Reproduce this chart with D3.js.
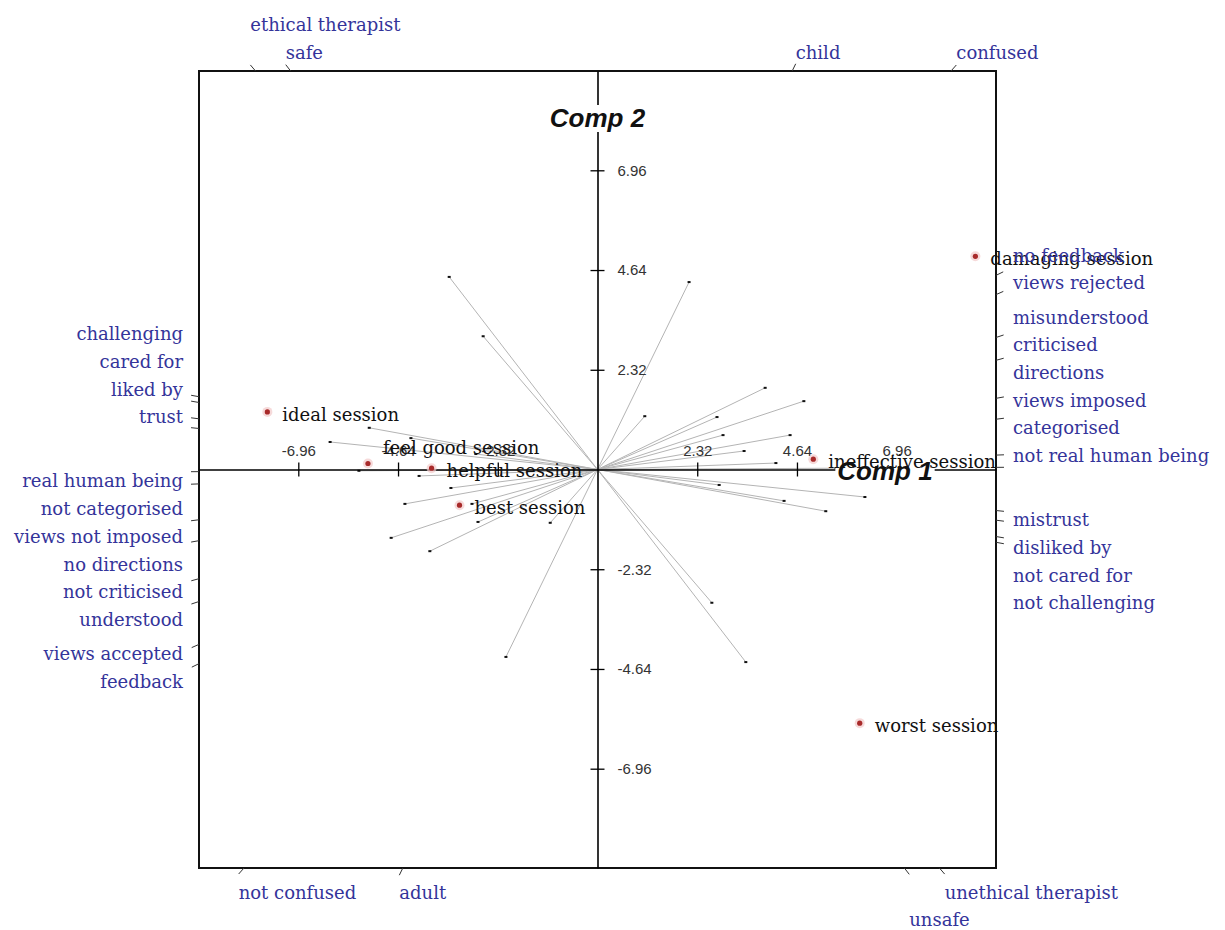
<!DOCTYPE html>
<html>
<head>
<meta charset="utf-8">
<script src="https://cdnjs.cloudflare.com/ajax/libs/d3/7.8.5/d3.min.js"></script>
<style>
body{margin:0;background:#fff}
</style>
</head>
<body>
<script>
var width=1225, height=930;

// elements (sessions)
var sessionNames=["ideal session","feel good session","helpful session","best session","ineffective session","damaging session","worst session"];
var sessionX=[-7.68,-5.34,-3.86,-3.21,5.02,8.79,6.10];
var sessionY=[1.34,0.14,0.03,-0.83,0.24,4.96,-5.90];

// constructs: pole at +vector end, pole at -vector end, vector
var posPole=["no feedback","views rejected","misunderstood","criticised","directions","views imposed","categorised","not real human being",
	"mistrust","disliked by","not cared for","not challenging","child","ethical therapist","safe","confused"];
var negPole=["feedback","views accepted","understood","not criticised","no directions","views not imposed","not categorised","real human being",
	"trust","liked by","cared for","challenging","adult","unethical therapist","unsafe","not confused"];
var constructX=[3.90,2.78,4.80,2.92,4.48,3.41,4.15,5.55,6.22,2.83,4.34,5.31,2.13,-2.66,-3.45,1.10];
var constructY=[1.90,1.22,1.59,0.80,0.80,0.43,0.15,0.03,-0.64,-0.36,-0.73,-0.97,4.36,3.10,4.48,1.24];

var tickValues=[-6.96,-4.64,-2.32,2.32,4.64,6.96];

var lim=9.27;
var serif="DejaVu Serif, serif", sans="Liberation Sans, Arial, sans-serif";
var blue="#34349a";
var fs=18;

var x=d3.scaleLinear().domain([-lim,lim]).range([199,996]);
var y=d3.scaleLinear().domain([-lim,lim]).range([868,71]);

var svg=d3.select("body").append("svg").attr("width",width).attr("height",height);

// frame
svg.append("rect").attr("x",x(-lim)).attr("y",y(lim))
	.attr("width",x(lim)-x(-lim)).attr("height",y(-lim)-y(lim))
	.attr("fill","none").attr("stroke","#111").attr("stroke-width",2);

// construct vectors
var constructs=constructX.map((vx,i)=>({vx:vx,vy:constructY[i],pos:posPole[i],neg:negPole[i]}));
var gVec=svg.append("g");
gVec.selectAll("line").data(constructs).enter().append("line")
	.attr("x1",d=>x(-d.vx)).attr("y1",d=>y(-d.vy))
	.attr("x2",d=>x(d.vx)).attr("y2",d=>y(d.vy))
	.attr("stroke","#b4b4b4").attr("stroke-width",1);
var endPts=[];
constructs.forEach(d=>{endPts.push([d.vx,d.vy]);endPts.push([-d.vx,-d.vy]);});
gVec.selectAll("rect").data(endPts).enter().append("rect")
	.attr("x",d=>x(d[0])-1.5).attr("y",d=>y(d[1])-1)
	.attr("width",3).attr("height",2).attr("fill","#111");

// axes
var yAxis=d3.axisRight(y).tickValues(tickValues).tickSize(7).tickPadding(13).tickSizeOuter(0)
	.tickFormat(d=>d.toFixed(2));
var gy=svg.append("g").attr("transform","translate("+x(0)+",0)").call(yAxis);
gy.selectAll(".tick line").attr("x1",-7).attr("stroke","#000").attr("stroke-width",1.3);
gy.select(".domain").attr("stroke","#000").attr("stroke-width",1.6);
gy.selectAll("text").attr("dy","0.32em").attr("font-family",sans).attr("font-size",15).attr("fill","#333");

var xAxis=d3.axisTop(x).tickValues(tickValues).tickSize(7).tickPadding(7).tickSizeOuter(0)
	.tickFormat(d=>d.toFixed(2));
var gx=svg.append("g").attr("transform","translate(0,"+y(0)+")").call(xAxis);
gx.selectAll(".tick line").attr("y1",7).attr("stroke","#000").attr("stroke-width",1.3);
gx.select(".domain").attr("stroke","#000").attr("stroke-width",1.6);
gx.selectAll("text").attr("font-family",sans).attr("font-size",15).attr("fill","#333");

// component titles: white box first, text laid over the session labels later
function titleBox(tx,ty,s){
	var t=svg.append("text").attr("x",tx).attr("y",ty).attr("text-anchor","middle")
		.attr("font-family",sans).attr("font-size",26).attr("font-weight","bold").attr("font-style","italic")
		.attr("fill","#111").text(s);
	var b=t.node().getBBox();
	t.remove();
	svg.append("rect").attr("x",b.x-2).attr("y",b.y+2).attr("width",b.width+4).attr("height",b.height-3)
		.attr("fill","#fff");
	return function(){
		svg.append("text").attr("x",tx).attr("y",ty).attr("text-anchor","middle")
			.attr("font-family",sans).attr("font-size",26).attr("font-weight","bold").attr("font-style","italic")
			.attr("fill","#111").text(s);
	};
}
var comp2=titleBox(x(0),127,"Comp 2");
var comp1=titleBox(885,480,"Comp 1");

// session points
var gPts=svg.append("g");
sessionNames.forEach((n,i)=>{
	gPts.append("circle").attr("cx",x(sessionX[i])).attr("cy",y(sessionY[i])).attr("r",5)
		.attr("fill","#f2caca").attr("opacity",0.7);
	gPts.append("circle").attr("cx",x(sessionX[i])).attr("cy",y(sessionY[i])).attr("r",2.6)
		.attr("fill","#a82a2a");
});

// session labels, nudged up when they collide
var gLab=svg.append("g");
var order=d3.range(sessionNames.length).sort((a,b)=>sessionX[b]-sessionX[a]);
var placed=[];
order.forEach(i=>{
	var lx=x(sessionX[i])+15, ly=y(sessionY[i])+3;
	var t=gLab.append("text").attr("x",lx).attr("dy","0.32em")
		.attr("font-family",serif).attr("font-size",fs).attr("fill","#111")
		.text(sessionNames[i]);
	var w=t.node().getComputedTextLength(), h=16;
	var hit=true;
	while(hit){
		hit=placed.some(p=>lx<p.x+p.w && lx+w>p.x && ly-h/2<p.y+p.h/2 && ly+h/2>p.y-p.h/2);
		if(hit) ly-=18;
	}
	t.attr("y",ly);
	placed.push({x:lx,y:ly,w:w,h:h});
});

comp2();
comp1();

// where each pole meets the frame
var ends=[];
constructs.forEach(d=>{
	[1,-1].forEach(s=>{
		var ex=s*d.vx, ey=s*d.vy;
		var tx=lim/Math.abs(ex), ty=lim/Math.abs(ey);
		var t=Math.min(tx,ty);
		var side= tx<=ty ? (ex>0?"right":"left") : (ey>0?"top":"bottom");
		var sx=x(ex)-x(0), sy=y(ey)-y(0), len=Math.sqrt(sx*sx+sy*sy);
		var fx=x(ex*t), fy=y(ey*t);
		ends.push({label:s>0?d.pos:d.neg, side:side, fx:fx, fy:fy, tx:fx+8*sx/len, ty:fy+8*sy/len});
	});
});

var gCon=svg.append("g");
gCon.selectAll("line").data(ends).enter().append("line")
	.attr("x1",d=>d.fx).attr("y1",d=>d.fy).attr("x2",d=>d.tx).attr("y2",d=>d.ty)
	.attr("stroke","#333").attr("stroke-width",1);

// side labels, stacked away from the horizontal axis
var gap=27.7;
["left","right"].forEach(side=>{
	var g=ends.filter(e=>e.side==side);
	var up=g.filter(e=>e.fy<y(0)).sort((a,b)=>b.fy-a.fy);
	var prev=Infinity;
	up.forEach(e=>{e.ly=Math.min(e.fy-11,prev-gap);prev=e.ly;});
	var dn=g.filter(e=>e.fy>=y(0)).sort((a,b)=>a.fy-b.fy);
	prev=-Infinity;
	dn.forEach(e=>{e.ly=Math.max(e.fy+10,prev+gap);prev=e.ly;});
	g.forEach(e=>{
		gCon.append("text")
			.attr("x",side=="right"?x(lim)+17:x(-lim)-16).attr("y",e.ly).attr("dy","0.32em")
			.attr("text-anchor",side=="right"?"start":"end")
			.attr("font-family",serif).attr("font-size",fs).attr("fill",blue)
			.text(e.label);
	});
});

// top and bottom labels, put in rows when they would collide
["top","bottom"].forEach(side=>{
	var g=ends.filter(e=>e.side==side).sort((a,b)=>b.tx-a.tx);
	var rows=[];
	g.forEach(e=>{
		var t=gCon.append("text").attr("x",e.tx).attr("dy","0.32em")
			.attr("font-family",serif).attr("font-size",fs).attr("fill",blue)
			.text(e.label);
		var w=t.node().getComputedTextLength();
		var r=0;
		while(rows[r] && rows[r].some(p=>e.tx<p.x+p.w+4 && e.tx+w+4>p.x)) r++;
		if(!rows[r]) rows[r]=[];
		rows[r].push({x:e.tx,w:w});
		t.attr("y",side=="top"? y(lim)-18-28*r : y(-lim)+25+27*r);
	});
});
</script>
</body>
</html>
